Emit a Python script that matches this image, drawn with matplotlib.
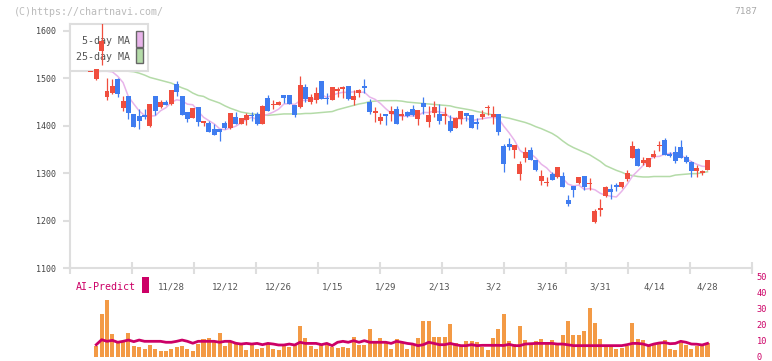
import numpy as np
import matplotlib
matplotlib.use("Agg")
import matplotlib.pyplot as plt
from matplotlib.patches import Rectangle

# ---------------- data (candle index -1 .. 114) ----------------
idx = list(range(-1, 115))

opens = [1514, 1499, 1557, 1460, 1469, 1499, 1438, 1462, 1425, 1420, 1423, 1400, 1463, 1439, 1451, 1446,
         1488, 1463, 1429, 1417, 1439, 1407, 1405, 1393, 1393, 1405, 1395, 1418, 1404, 1413, 1423, 1425,
         1404, 1458, 1443, 1444, 1464, 1465, 1444, 1439, 1481, 1451, 1455, 1495, 1459, 1455, 1474, 1477,
         1484, 1455, 1470, 1483, 1451, 1428, 1410, 1425, 1425, 1436, 1420, 1430, 1436, 1415, 1448, 1409,
         1428, 1425, 1420, 1411, 1396, 1415, 1427, 1423, 1407, 1418, 1438, 1418, 1425, 1358, 1362, 1348,
         1299, 1333, 1349, 1328, 1283, 1279, 1299, 1291, 1295, 1244, 1272, 1279, 1295, 1277, 1196, 1223,
         1251, 1267, 1276, 1270, 1288, 1333, 1352, 1321, 1314, 1335, 1358, 1370, 1340, 1344, 1356, 1334,
         1323, 1304, 1300, 1306]

highs = [1514, 1519, 1616, 1500, 1499, 1500, 1462, 1462, 1425, 1435, 1435, 1446, 1463, 1455, 1455, 1476,
         1495, 1463, 1429, 1437, 1439, 1410, 1410, 1404, 1393, 1410, 1428, 1430, 1416, 1427, 1429, 1430,
         1444, 1465, 1455, 1453, 1465, 1465, 1444, 1506, 1488, 1467, 1481, 1495, 1470, 1481, 1482, 1483,
         1484, 1476, 1478, 1499, 1457, 1439, 1428, 1425, 1441, 1442, 1436, 1432, 1444, 1434, 1460, 1441,
         1453, 1446, 1439, 1423, 1418, 1431, 1427, 1423, 1416, 1434, 1444, 1441, 1425, 1362, 1374, 1360,
         1325, 1356, 1356, 1328, 1307, 1293, 1302, 1314, 1302, 1253, 1272, 1292, 1295, 1290, 1225, 1246,
         1272, 1277, 1279, 1281, 1307, 1368, 1354, 1335, 1333, 1349, 1368, 1375, 1345, 1357, 1369, 1339,
         1325, 1318, 1307, 1328]

lows = [1514, 1497, 1528, 1455, 1467, 1460, 1431, 1415, 1398, 1394, 1415, 1398, 1423, 1437, 1443, 1444,
        1462, 1422, 1407, 1417, 1399, 1399, 1386, 1381, 1368, 1393, 1393, 1404, 1404, 1401, 1411, 1402,
        1404, 1432, 1436, 1443, 1448, 1446, 1418, 1437, 1451, 1446, 1449, 1456, 1446, 1455, 1461, 1459,
        1455, 1444, 1460, 1469, 1425, 1409, 1404, 1401, 1410, 1404, 1413, 1418, 1420, 1401, 1425, 1398,
        1418, 1404, 1404, 1386, 1395, 1404, 1410, 1396, 1393, 1415, 1423, 1404, 1381, 1302, 1348, 1331,
        1286, 1323, 1328, 1304, 1276, 1274, 1285, 1290, 1270, 1230, 1249, 1277, 1264, 1264, 1194, 1209,
        1250, 1246, 1262, 1269, 1283, 1331, 1316, 1318, 1314, 1332, 1347, 1338, 1334, 1321, 1331, 1321,
        1291, 1293, 1296, 1306]

closes = [1514, 1519, 1578, 1474, 1484, 1467, 1453, 1428, 1398, 1411, 1419, 1446, 1432, 1451, 1443, 1476,
          1472, 1422, 1415, 1437, 1407, 1409, 1386, 1381, 1386, 1396, 1428, 1404, 1416, 1422, 1420, 1404,
          1442, 1432, 1446, 1451, 1459, 1446, 1422, 1486, 1456, 1460, 1469, 1457, 1456, 1481, 1478, 1481,
          1456, 1462, 1476, 1479, 1430, 1432, 1418, 1421, 1432, 1404, 1425, 1420, 1423, 1434, 1439, 1423,
          1439, 1410, 1424, 1390, 1416, 1431, 1420, 1396, 1403, 1425, 1440, 1425, 1386, 1320, 1355, 1360,
          1320, 1345, 1328, 1307, 1295, 1281, 1285, 1314, 1270, 1234, 1264, 1292, 1270, 1278, 1221, 1227,
          1271, 1260, 1270, 1281, 1300, 1358, 1316, 1327, 1333, 1341, 1360, 1339, 1337, 1325, 1332, 1323,
          1304, 1310, 1304, 1328]

ma5 = [np.nan, 1514, 1515, 1515, 1513.8, 1504.4, 1491.2, 1461.2, 1446, 1431.4, 1421.8, 1420.4, 1421.2,
       1431.8, 1438.2, 1449.6, 1454.8, 1452.8, 1445.6, 1444.4, 1430.6, 1418, 1410.8, 1404, 1393.8, 1391.6,
       1395.4, 1399, 1406, 1413.2, 1418, 1413.2, 1420.8, 1424, 1428.8, 1435, 1446, 1446.8, 1444.8, 1452.8,
       1453.8, 1454, 1458.6, 1465.6, 1459.6, 1464.6, 1468.2, 1470.6, 1470.4, 1471.6, 1470.6, 1470.8, 1460.6,
       1455.8, 1447, 1436, 1426.6, 1421.4, 1420, 1420.4, 1420.8, 1421.2, 1428.2, 1427.8, 1431.6, 1429, 1427,
       1417.2, 1415.8, 1414.2, 1416.2, 1410.6, 1413.2, 1415, 1416.8, 1417.8, 1415.8, 1399.2, 1385.2, 1369.2,
       1348.2, 1340, 1341.6, 1332, 1319, 1311.2, 1299.2, 1296.4, 1289, 1276.8, 1273.4, 1274.8, 1266, 1267.6,
       1265, 1257.6, 1253.4, 1251.4, 1249.8, 1261.8, 1276.4, 1293.8, 1305, 1316.4, 1326.8, 1335, 1335.4,
       1340, 1342, 1340.4, 1338.6, 1331.2, 1324.2, 1318.8, 1314.6, 1313.8]

ma25 = [1521, 1520, 1520, 1519, 1518, 1517, 1516, 1515, 1514, 1511, 1507, 1502, 1499, 1496, 1493, 1490,
        1485, 1480, 1476, 1469, 1464, 1462, 1456, 1452, 1448, 1442, 1437, 1433, 1429, 1427, 1425, 1424,
        1423, 1422, 1423, 1424, 1425, 1425, 1425, 1425, 1426, 1426, 1427, 1428, 1429, 1430, 1434, 1437,
        1440, 1443, 1446, 1448, 1451, 1452, 1453, 1453, 1453, 1453, 1452, 1450, 1449, 1448, 1447, 1446,
        1445, 1444, 1443, 1442, 1439, 1437, 1435, 1433, 1430, 1428, 1425, 1423, 1420, 1418, 1416, 1413,
        1410, 1407, 1403, 1398, 1394, 1389, 1384, 1377, 1368, 1360, 1354, 1349, 1344, 1339, 1332, 1325,
        1316, 1311, 1306, 1302, 1297, 1295, 1293, 1292, 1292, 1293, 1293, 1293, 1293, 1296, 1297, 1298,
        1299, 1299, 1301, 1303]

volume = [0, 6.9, 26.9, 35.6, 14.4, 8.5, 9.8, 15.0, 7.1, 6.5, 5.0, 7.5, 5.0, 3.8, 3.8, 5.0,
          6.5, 6.9, 5.0, 3.8, 8.1, 11.3, 11.9, 9.8, 15.0, 6.9, 9.2, 8.1, 7.5, 4.4, 8.1, 5.0,
          5.6, 8.1, 5.0, 4.4, 6.9, 6.5, 7.5, 19.4, 11.9, 6.9, 5.0, 8.1, 8.1, 6.5, 5.6, 6.5,
          5.6, 12.5, 7.5, 7.5, 17.5, 8.5, 11.9, 9.2, 5.0, 11.3, 8.5, 5.0, 7.5, 11.9, 22.5, 22.5,
          12.5, 12.5, 12.5, 20.6, 8.5, 7.5, 10.0, 10.0, 9.4, 6.5, 4.4, 11.9, 17.5, 26.9, 10.0, 8.1,
          19.4, 10.6, 8.8, 10.0, 11.3, 8.8, 10.6, 8.1, 13.8, 22.5, 13.8, 13.8, 16.3, 30.6, 21.3, 11.3,
          7.5, 7.5, 5.0, 5.6, 6.9, 21.3, 11.3, 10.6, 7.5, 7.5, 9.4, 10.6, 5.0, 4.4, 8.8, 7.5,
          5.0, 6.9, 6.9, 8.8]

vol_ma = [np.nan, 7.7, 10.8, 9.8, 10.4, 9.2, 9.8, 10.6, 9.6, 10.6, 9.8, 9.8, 9.8, 9.8, 9.2, 9.2,
          9.8, 10.6, 9.8, 8.6, 9.8, 9.8, 9.8, 9.8, 9.2, 9.8, 9.8, 8.6, 8.1, 8.5, 8.1, 8.5,
          7.7, 8.5, 8.1, 7.5, 7.5, 8.1, 7.5, 9.2, 8.5, 8.5, 8.5, 7.7, 8.5, 7.1, 9.2, 9.8,
          9.2, 10.2, 9.2, 10.2, 9.2, 9.2, 9.2, 9.2, 8.5, 9.8, 9.2, 8.5, 8.1, 7.1, 7.7, 9.2,
          8.5, 7.7, 7.7, 8.5, 7.7, 7.1, 7.1, 7.7, 7.1, 7.3, 7.3, 7.3, 7.3, 7.2, 7.9, 7.1,
          7.1, 8.1, 8.3, 8.5, 8.5, 8.5, 8.5, 8.1, 8.1, 7.6, 7.1, 7.1, 7.1, 7.1, 7.1, 7.1,
          7.1, 7.1, 7.1, 7.1, 7.7, 8.5, 8.5, 8.1, 7.1, 8.1, 8.75, 9.0, 8.3, 8.5, 9.8, 9.2,
          8.1, 8.0, 7.5, 8.5]

date_labels = ["11/28", "12/12", "12/26", "1/15", "1/29", "2/13", "3/2", "3/16", "3/31", "4/14", "4/28"]
date_label_idx = [14, 24, 34, 44, 54, 64, 74, 84, 94, 104, 114]
price_ticks = [1100, 1200, 1300, 1400, 1500, 1600]
vol_ticks = [0, 10, 20, 30, 40, 50]

# ---------------- style ----------------
RED = "#f04e3e"
BLUE = "#3f7cf0"
ORANGE = "#f39a45"
CRIMSON = "#cc0066"
PINK = "#e8b4ea"
GREEN = "#b4dba8"
GRID = "#dedede"
MONO = "DejaVu Sans Mono"

W, H = 772, 361
fig = plt.figure(figsize=(W / 100, H / 100), dpi=100)


def fx(px):
    return px / W


def fy(py):
    return 1 - py / H


X0, X1 = -4.9, 122.3

ax = fig.add_axes([fx(70), fy(268), fx(752) - fx(70), fy(24) - fy(268)])
axv = fig.add_axes([fx(70), fy(357), fx(752) - fx(70), fy(277) - fy(357)])
axv.patch.set_visible(False)

x = np.array(idx, dtype=float)
o = np.array(opens, dtype=float)
c = np.array(closes, dtype=float)
hi = np.array(highs, dtype=float)
lo = np.array(lows, dtype=float)
up = c >= o
cols = np.where(up, RED, BLUE)
body_h = np.abs(c - o)
min_h = 2.2
bottom = np.where(body_h < min_h, (o + c) / 2 - min_h / 2, np.minimum(o, c))
height = np.maximum(body_h, min_h)

# moving averages (under legend)
ax.plot(x, ma25, color=GREEN, lw=1.1, zorder=2)
ax.plot(x, ma5, color=PINK, lw=1.1, zorder=2)

# legend box (candles drawn over it)
ax.add_patch(Rectangle((fx(70), fy(71)), fx(148) - fx(70), fy(24) - fy(71), transform=fig.transFigure,
                       facecolor="white", edgecolor=GRID, lw=1.5, zorder=3, clip_on=False))
ax.text(fx(129.5), fy(40.5), "5-day MA", transform=fig.transFigure, ha="right", va="center",
        fontsize=7.2, family=MONO, color="#555555", zorder=4)
ax.text(fx(129.5), fy(56.5), "25-day MA", transform=fig.transFigure, ha="right", va="center",
        fontsize=7.2, family=MONO, color="#555555", zorder=4)
ax.add_patch(Rectangle((fx(136), fy(46.5)), fx(142.5) - fx(136), fy(31.5) - fy(46.5), transform=fig.transFigure,
                       facecolor=PINK, edgecolor="#666666", lw=1.0, zorder=4, clip_on=False))
ax.add_patch(Rectangle((fx(136), fy(63)), fx(142.5) - fx(136), fy(48.5) - fy(63), transform=fig.transFigure,
                       facecolor=GREEN, edgecolor="#666666", lw=1.0, zorder=4, clip_on=False))

# candles
ax.vlines(x, lo, hi, colors=cols, lw=0.9, zorder=5)
ax.bar(x, height, bottom=bottom, width=0.93, color=cols, linewidth=0, zorder=6)

ax.set_xlim(X0, X1)
ax.set_ylim(1100, 1614.7)
for s in ["top", "right"]:
    ax.spines[s].set_visible(False)
for s in ["left", "bottom"]:
    ax.spines[s].set_color(GRID)
    ax.spines[s].set_linewidth(1.5)
ax.set_xticks(np.linspace(X0, X1, 12))
ax.set_xticklabels([])
ax.tick_params(axis="x", direction="inout", length=9, width=1.5, color=GRID)
ax.set_yticks(price_ticks)
ax.set_yticklabels([str(t) for t in price_ticks])
ax.tick_params(axis="y", direction="out", length=5, width=1.5, color=GRID, pad=5,
               labelsize=6, labelcolor="#444444")
for lab in ax.get_yticklabels():
    lab.set_family(MONO)

# volume panel
xv = np.array(idx, dtype=float)
axv.bar(xv, volume, width=0.75, color=ORANGE, linewidth=0, zorder=2)
axv.plot(xv, vol_ma, color=CRIMSON, lw=2.0, zorder=3)
axv.set_xlim(X0, X1)
axv.set_ylim(0, 50)
for s in axv.spines.values():
    s.set_visible(False)
axv.set_xticks([])
axv.yaxis.tick_right()
axv.set_yticks(vol_ticks)
axv.set_yticklabels([str(t) for t in vol_ticks])
axv.tick_params(axis="y", length=0, pad=3.5, labelsize=6.2, labelcolor=CRIMSON)
for lab in axv.get_yticklabels():
    lab.set_family(MONO)
    lab.set_ha("left")

# date labels (drawn on the figure so the volume panel cannot hide them)
trans = ax.get_xaxis_transform()
for lbl, i in zip(date_labels, date_label_idx):
    px_disp = trans.transform((i, 0))[0]
    fig.text(px_disp / (W), fy(287), lbl, ha="center", va="center",
             fontsize=6.5, family=MONO, color="#555555")

# AI-Predict label
fig.text(fx(76), fy(287), "AI-Predict", ha="left", va="center", fontsize=7.2, family=MONO, color=CRIMSON)
fig.patches.append(Rectangle((fx(142), fy(293)), fx(149) - fx(142), fy(277) - fy(293),
                             transform=fig.transFigure, facecolor=CRIMSON, edgecolor="none"))

# watermarks
fig.text(fx(14), fy(12), "(C)https://chartnavi.com/", ha="left", va="center", fontsize=7.2,
         family=MONO, color="#bbbbbb")
fig.text(fx(757), fy(12), "7187", ha="right", va="center", fontsize=6.8, family=MONO, color="#aaaaaa")

fig.savefig("out.png", dpi=100)
